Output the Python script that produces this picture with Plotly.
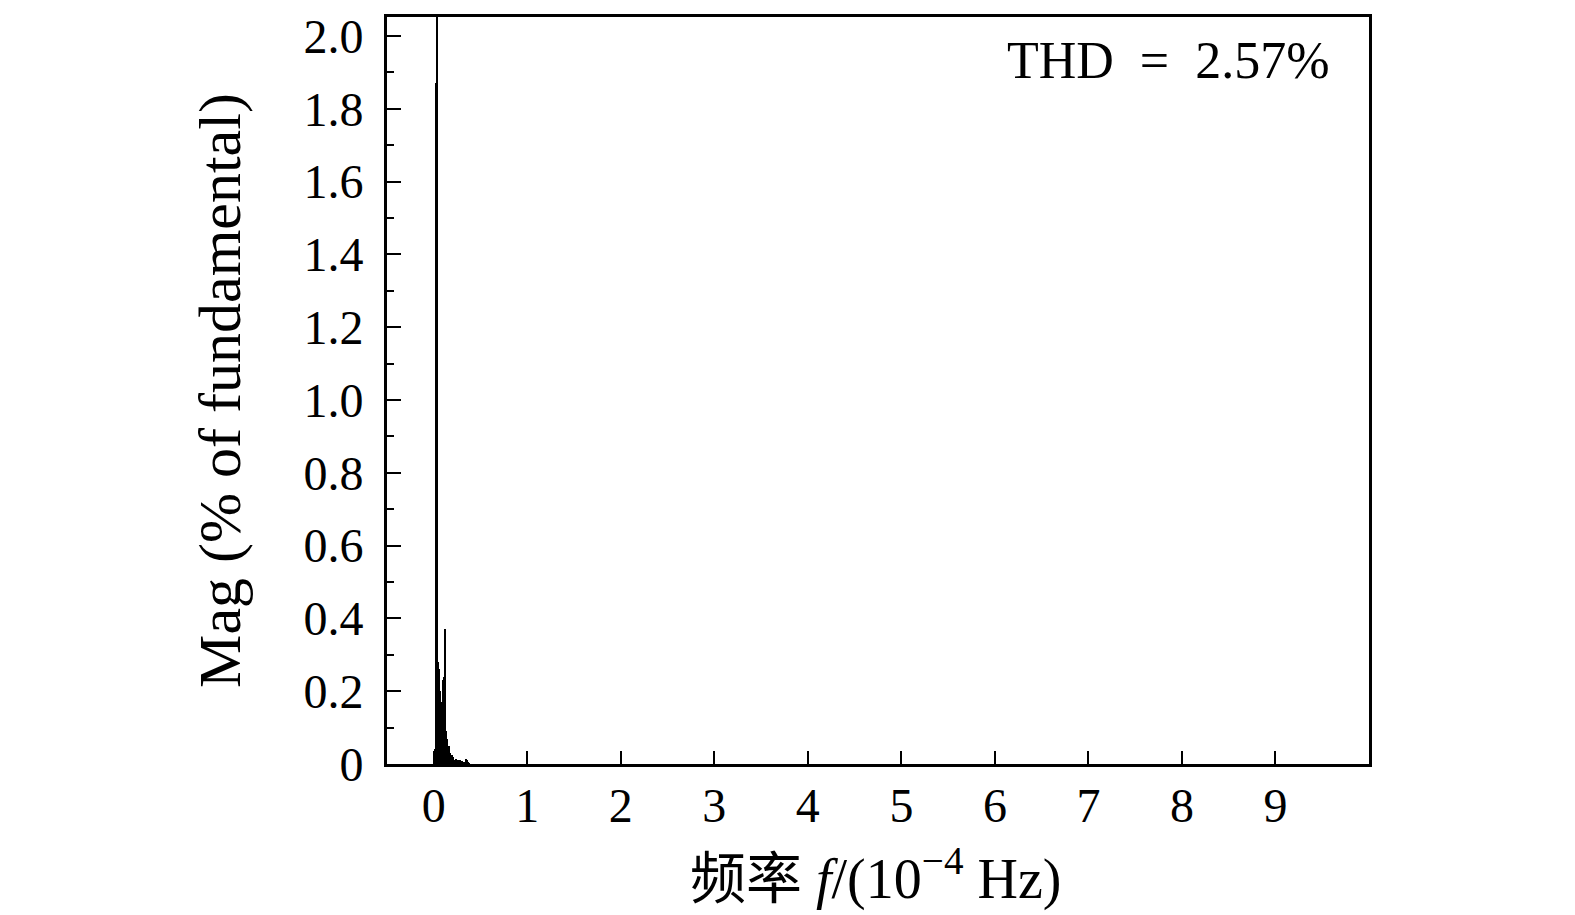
import plotly.graph_objects as go

# Harmonic spectrum (frequency in 1e-4 Hz, magnitude in % of fundamental)
freq = [0.00, 0.01, 0.02, 0.03, 0.04, 0.05, 0.06, 0.07, 0.08, 0.09,
        0.10, 0.11, 0.12, 0.13, 0.14, 0.15, 0.16, 0.17, 0.18, 0.19,
        0.20, 0.21, 0.22, 0.23, 0.24, 0.25, 0.26, 0.27, 0.28, 0.29,
        0.30, 0.31, 0.32, 0.33, 0.34, 0.35, 0.36, 0.37, 0.38]
mag = [0.02, 0.04, 1.87, 100.0, 1.66, 0.28, 0.26, 0.20, 0.15, 0.17,
       0.23, 0.24, 0.37, 0.09, 0.07, 0.05, 0.05, 0.03, 0.02, 0.025,
       0.015, 0.02, 0.012, 0.01, 0.015, 0.01, 0.012, 0.008, 0.01, 0.006,
       0.008, 0.005, 0.006, 0.004, 0.01, 0.015, 0.012, 0.005, 0.002]

x_ticks = [0, 1, 2, 3, 4, 5, 6, 7, 8, 9]
x_ticklabels = ["0", "1", "2", "3", "4", "5", "6", "7", "8", "9"]
y_ticks = [0, 0.2, 0.4, 0.6, 0.8, 1.0, 1.2, 1.4, 1.6, 1.8, 2.0]
y_ticklabels = ["0", "0.2", "0.4", "0.6", "0.8", "1.0", "1.2", "1.4", "1.6", "1.8", "2.0"]
thd_text = "THD\u2002=\u20022.57%"
x_title = "频率 <i>f</i>/(10<sup>−4</sup> Hz)"
y_title = "Mag (% of fundamental)"

FONT = "Liberation Serif, Noto Sans CJK SC, serif"

fig = go.Figure()
fig.add_trace(go.Bar(x=freq, y=mag, width=0.0107,
                     marker=dict(color="black", line=dict(width=0)),
                     showlegend=False))

fig.update_layout(
    width=1575, height=915,
    margin=dict(l=379, r=214, t=9, b=159, autoexpand=False),
    paper_bgcolor="white", plot_bgcolor="white",
    font=dict(family=FONT, color="black", size=46),
    bargap=0,
    xaxis=dict(range=[-0.5, 10], tickvals=x_ticks, ticktext=x_ticklabels,
               ticks="inside", ticklen=13, tickwidth=2, tickcolor="black",
               showline=True, linewidth=3, linecolor="black", mirror=True,
               showgrid=False, zeroline=False, automargin=False,
               tickfont=dict(size=48), ticklabelstandoff=-3,
               ticklabeloverflow="allow"),
    yaxis=dict(range=[0, 2.052], tickvals=y_ticks, ticktext=y_ticklabels,
               ticks="inside", ticklen=14, tickwidth=2, tickcolor="black",
               minor=dict(dtick=0.1, tick0=0, ticks="inside", ticklen=7,
                          tickwidth=2, tickcolor="black", showgrid=False),
               showline=True, linewidth=3, linecolor="black", mirror=True,
               showgrid=False, zeroline=False, automargin=False,
               tickfont=dict(size=48), ticklabelstandoff=11,
               ticklabeloverflow="allow",
               title=dict(text=y_title, font=dict(size=60), standoff=44)),
    annotations=[
        dict(text=thd_text, xref="paper", yref="paper",
             x=0.962, y=0.983, xanchor="right", yanchor="top",
             showarrow=False, font=dict(size=52)),
        dict(text=x_title, xref="paper", yref="paper",
             x=0.497, y=-0.148, xanchor="center", yanchor="middle",
             showarrow=False, font=dict(size=56)),
    ],
)

fig.write_html("out.html")
